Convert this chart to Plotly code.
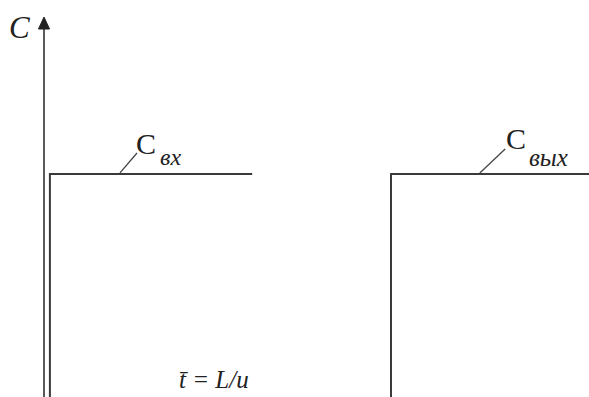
import plotly.graph_objects as go

# Plug-flow response: step input at the inlet and the same step at the outlet
# after the mean residence time t_mean = L/u.
T_MEAN = 1.0          # mean residence time (dimensionless)
C0 = 1.0              # step height
T_IN_START = 0.017    # inlet step, drawn just right of the C axis
T_IN_END = 0.60       # end of the drawn inlet step
T_OUT_END = 1.60      # outlet step runs past the right edge

t_in = [T_IN_START, T_IN_START, T_IN_END]
c_in = [0.0, C0, C0]
t_out = [T_MEAN, T_MEAN, T_OUT_END]
c_out = [0.0, C0, C0]

# visible window
X_RANGE = [-0.1268, 1.5706]
Y_RANGE = [0.1617, 1.6541]
AXIS_TOP = 1.545
ARROW_TIP = 1.590
ARROW_HALF = 0.0159

LINE = "#3a3a3a"
SERIF = "Liberation Serif"

fig = go.Figure()

# C axis
fig.add_trace(go.Scatter(x=[0, 0], y=[0, AXIS_TOP], mode="lines",
                         line=dict(color="#5a5a5a", width=2),
                         hoverinfo="skip", showlegend=False))
fig.add_trace(go.Scatter(x=[-ARROW_HALF, 0, ARROW_HALF, -ARROW_HALF],
                         y=[AXIS_TOP, ARROW_TIP, AXIS_TOP, AXIS_TOP],
                         mode="lines", fill="toself", fillcolor="#222",
                         line=dict(color="#222", width=1),
                         hoverinfo="skip", showlegend=False))

# inlet and outlet steps
fig.add_trace(go.Scatter(x=t_in, y=c_in, mode="lines",
                         line=dict(color=LINE, width=2), showlegend=False))
fig.add_trace(go.Scatter(x=t_out, y=c_out, mode="lines",
                         line=dict(color=LINE, width=2), showlegend=False))

# leader lines to the labels
leaders = [
    (0.219, C0 + 0.004, 0.268, 1.079),
    (1.256, C0 + 0.004, 1.329, 1.094),
]
for x0, y0, x1, y1 in leaders:
    fig.add_shape(type="line", x0=x0, y0=y0, x1=x1, y1=y1,
                  line=dict(color="#444", width=1.3))

def ann(text, x, y, size, xanchor="center", italic=False):
    if italic:
        text = f"<i>{text}</i>"
    fig.add_annotation(x=x, y=y, text=text, showarrow=False,
                       xanchor=xanchor, yanchor="middle",
                       font=dict(family=SERIF, size=size, color="#222"))

ann("C", -0.0703, 1.5508, 31, italic=True)              # axis label
ann("C", 0.2939, 1.1165, 30)                            # C_вх
ann("вх", 0.3285, 1.0639, 24, xanchor="left", italic=True)
ann("C", 1.3590, 1.1316, 30)                            # C_вых
ann("вых", 1.3905, 1.0602, 25, xanchor="left", italic=True)
ann("t\u0304 = L/u", 0.4900, 0.2293, 25, italic=True)   # mean residence time

fig.update_xaxes(range=X_RANGE, visible=False, fixedrange=True)
fig.update_yaxes(range=Y_RANGE, visible=False, fixedrange=True)
fig.update_layout(width=589, height=397, margin=dict(l=0, r=0, t=0, b=0),
                  paper_bgcolor="white", plot_bgcolor="white",
                  showlegend=False)

fig.write_html("out.html", config={"displayModeBar": False})
